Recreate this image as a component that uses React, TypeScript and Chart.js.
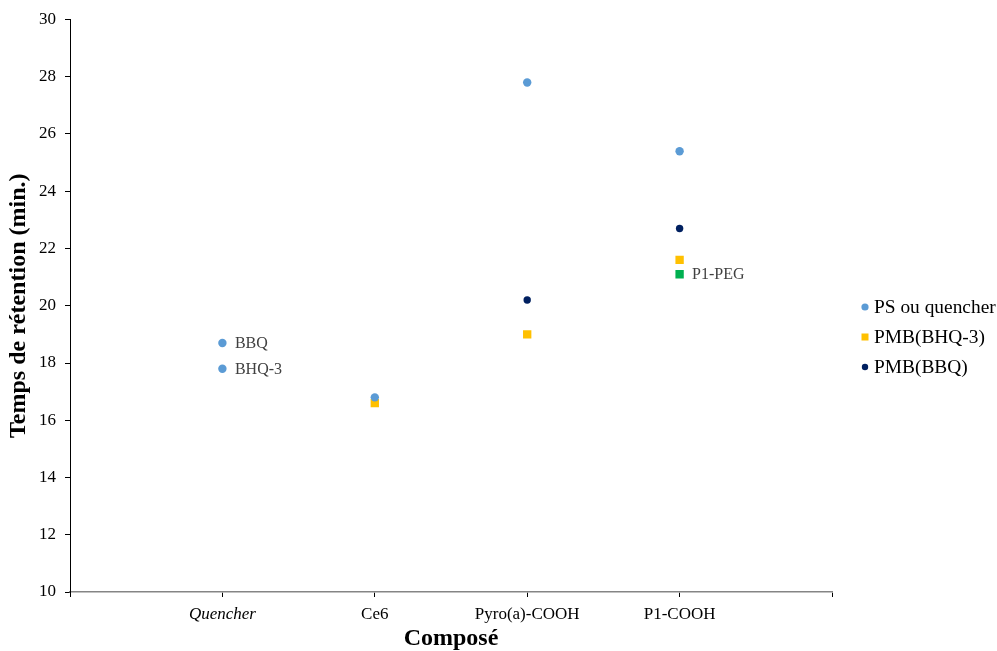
import React, { useEffect, useRef } from "react";
import { Chart, registerables } from "chart.js";

Chart.register(...registerables);

const categories = ["Quencher", "Ce6", "Pyro(a)-COOH", "P1-COOH"];
const yTicks = [10, 12, 14, 16, 18, 20, 22, 24, 26, 28, 30];

// PS ou quencher
const psCat = [1, 1, 2, 3, 4];
const psVal = [18.7, 17.8, 16.8, 27.8, 25.4];
const psLabels = ["BBQ", "BHQ-3", "", "", ""];

// PMB(BHQ-3)
const bhqCat = [2, 3, 4];
const bhqVal = [16.6, 19.0, 21.6];

// PMB(BBQ)
const bbqCat = [3, 4];
const bbqVal = [20.2, 22.7];

// P1-PEG (not in legend)
const pegCat = [4];
const pegVal = [21.1];
const pegLabels = ["P1-PEG"];

const legendNames = ["PS ou quencher", "PMB(BHQ-3)", "PMB(BBQ)"];

const FONT = "'Liberation Serif', 'Times New Roman', serif";

const toPts = (c: number[], v: number[]) => c.map((x, i) => ({ x, y: v[i] }));

export default function App() {
  const ref = useRef<HTMLCanvasElement | null>(null);

  useEffect(() => {
    if (!ref.current) return;

    const labelPlugin = {
      id: "pointLabels",
      afterDatasetsDraw(chart: any) {
        const ctx = chart.ctx;
        ctx.save();
        ctx.font = `16px ${FONT}`;
        ctx.fillStyle = "#404040";
        ctx.textAlign = "left";
        ctx.textBaseline = "middle";
        chart.data.datasets.forEach((ds: any, di: number) => {
          const labels = ds.pointLabels as string[] | undefined;
          if (!labels) return;
          const meta = chart.getDatasetMeta(di);
          meta.data.forEach((el: any, i: number) => {
            if (labels[i]) ctx.fillText(labels[i], el.x + 12.5, el.y + 1);
          });
        });
        ctx.restore();
      },
    };

    const legendPlugin = {
      id: "customLegend",
      afterDraw(chart: any) {
        const ctx = chart.ctx;
        ctx.save();
        ctx.font = `19.4px ${FONT}`;
        ctx.textAlign = "left";
        ctx.textBaseline = "middle";
        const x0 = 865;
        const y0 = 307;
        const gap = 30;
        legendNames.forEach((name, i) => {
          const ds = chart.data.datasets[i];
          const y = y0 + i * gap;
          ctx.fillStyle = ds.backgroundColor;
          if (ds.pointStyle === "rect") {
            ctx.fillRect(x0 - 3.5, y - 3.5, 7, 7);
          } else {
            ctx.beginPath();
            ctx.arc(x0, y, i === 2 ? 3.2 : 3.6, 0, Math.PI * 2);
            ctx.fill();
          }
          ctx.fillStyle = "#000";
          ctx.fillText(name, x0 + 9, y + 1);
        });
        ctx.restore();
      },
    };

    const chart = new Chart(ref.current, {
      type: "scatter",
      data: {
        datasets: [
          {
            label: legendNames[0],
            data: toPts(psCat, psVal),
            backgroundColor: "#5B9BD5",
            borderWidth: 0,
            pointStyle: "circle",
            pointRadius: 4.2,
            pointHoverRadius: 4.2,
            pointLabels: psLabels,
          } as any,
          {
            label: legendNames[1],
            data: toPts(bhqCat, bhqVal),
            backgroundColor: "#FFC000",
            borderWidth: 0,
            pointStyle: "rect",
            pointRadius: 5.9,
            pointHoverRadius: 5.9,
          } as any,
          {
            label: legendNames[2],
            data: toPts(bbqCat, bbqVal),
            backgroundColor: "#002060",
            borderWidth: 0,
            pointStyle: "circle",
            pointRadius: 3.7,
            pointHoverRadius: 3.7,
          } as any,
          {
            label: "P1-PEG",
            data: toPts(pegCat, pegVal),
            backgroundColor: "#00B050",
            borderWidth: 0,
            pointStyle: "rect",
            pointRadius: 5.9,
            pointHoverRadius: 5.9,
            pointLabels: pegLabels,
          } as any,
        ],
      },
      options: {
        animation: false,
        responsive: false,
        maintainAspectRatio: false,
        layout: { padding: { top: 19.5, right: 165, left: 0, bottom: 0 } },
        plugins: {
          legend: { display: false },
          tooltip: { enabled: false },
        },
        scales: {
          x: {
            type: "linear",
            min: 0,
            max: 5,
            afterBuildTicks: (scale: any) => {
              scale.ticks = [0, 1, 2, 3, 4, 5].map((v) => ({ value: v }));
            },
            afterFit: (scale: any) => {
              scale.height = 59;
            },
            ticks: {
              autoSkip: false,
              maxRotation: 0,
              padding: 7,
              color: "#000",
              callback: (v: any) => categories[Number(v) - 1] ?? "",
              font: (ctx: any) => ({
                family: FONT,
                size: 17,
                style: ctx.tick && ctx.tick.value === 1 ? "italic" : "normal",
              }),
            },
            grid: {
              drawOnChartArea: false,
              drawTicks: true,
              tickLength: 5,
              color: "#000",
            },
            border: { color: "#858585", width: 1.6 },
            title: {
              display: true,
              text: "Composé",
              color: "#000",
              font: { family: FONT, size: 24, weight: "bold", lineHeight: 1.0 },
              padding: 0,
            },
          },
          y: {
            type: "linear",
            min: 10,
            max: 30,
            afterBuildTicks: (scale: any) => {
              scale.ticks = yTicks.map((v) => ({ value: v }));
            },
            afterFit: (scale: any) => {
              scale.width = 70;
            },
            ticks: {
              padding: 9,
              color: "#000",
              font: { family: FONT, size: 17 },
            },
            grid: {
              drawOnChartArea: false,
              drawTicks: true,
              tickLength: 5,
              color: "#000",
            },
            border: { color: "#000", width: 1 },
            title: {
              display: true,
              text: "Temps de rétention (min.)",
              color: "#000",
              font: { family: FONT, size: 24, weight: "bold", lineHeight: 1.2 },
              padding: { top: 4, bottom: 0 },
            },
          },
        },
      } as any,
      plugins: [labelPlugin, legendPlugin],
    });

    return () => chart.destroy();
  }, []);

  return (
    <div style={{ position: "fixed", left: 0, top: 0, width: 997, height: 651, background: "#fff" }}>
      <canvas ref={ref} width={997} height={651} style={{ width: 997, height: 651, display: "block" }} />
    </div>
  );
}
